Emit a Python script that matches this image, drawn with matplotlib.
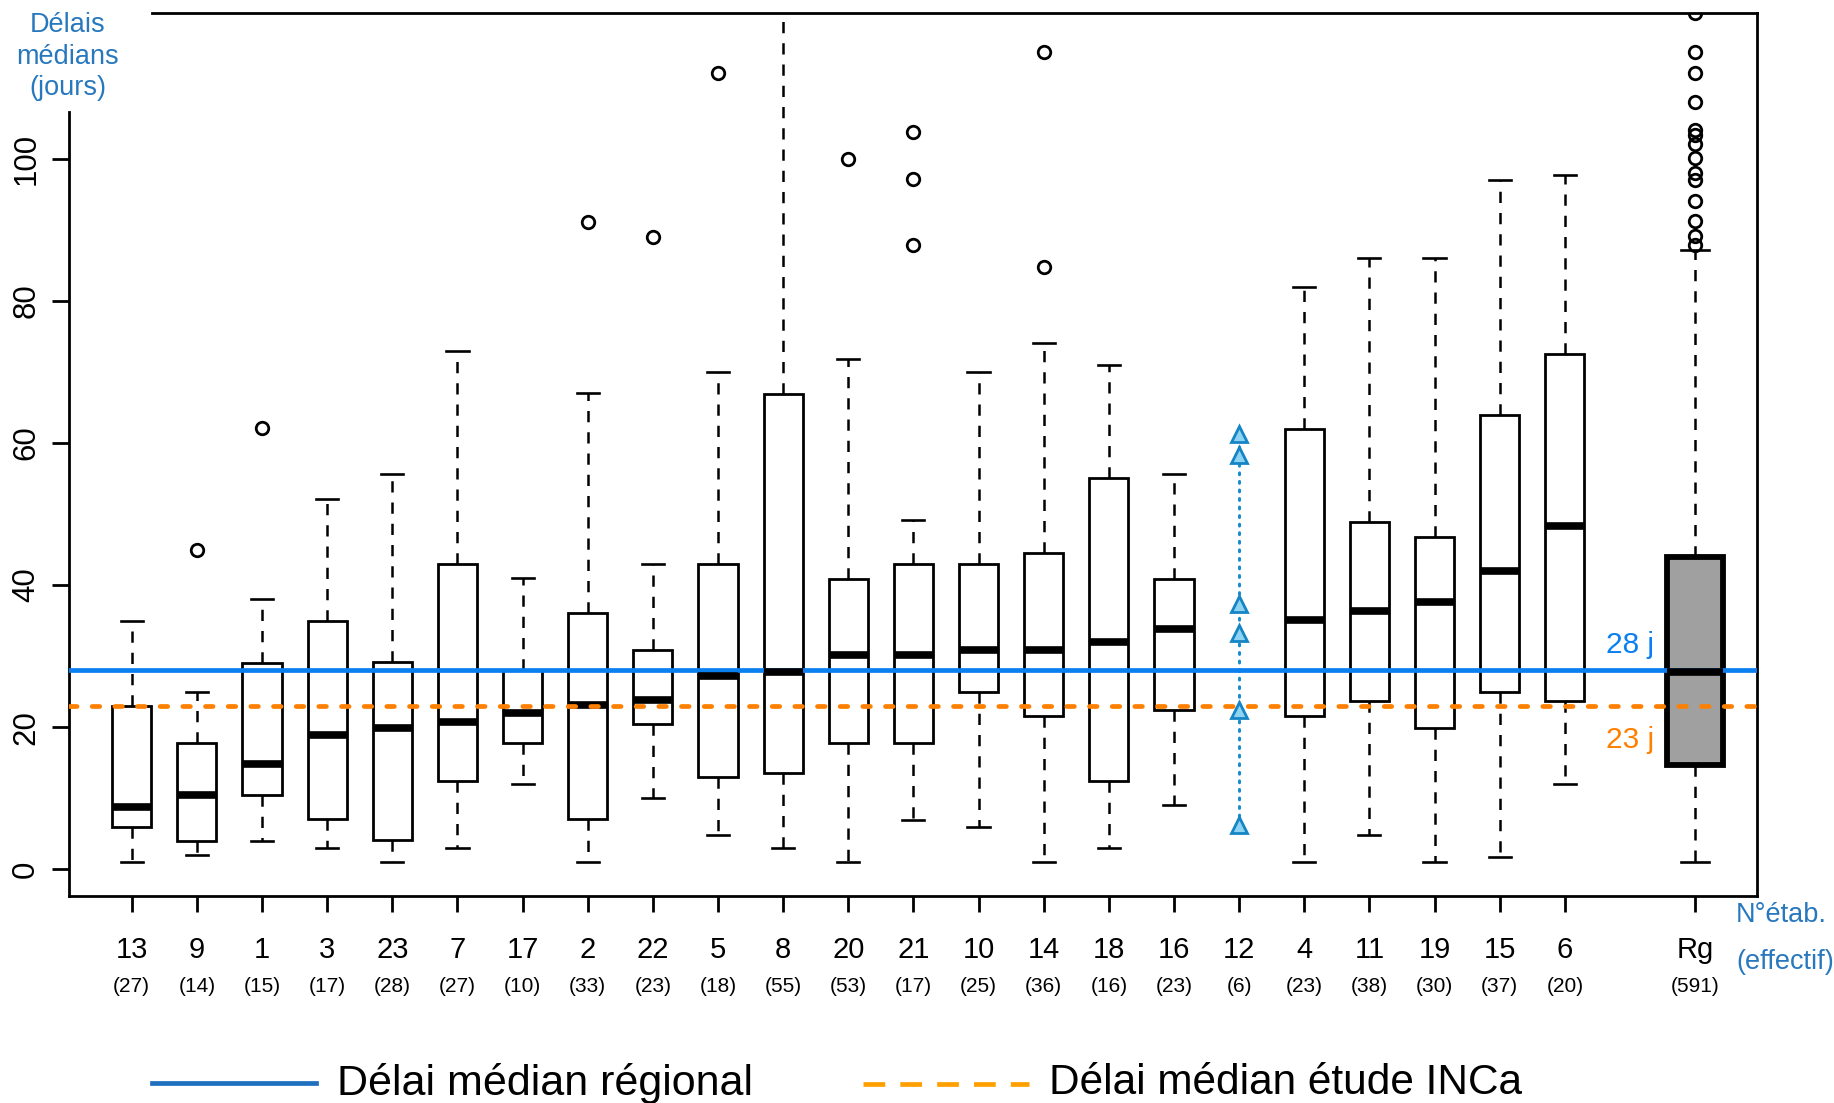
import matplotlib
matplotlib.use('Agg')
import matplotlib.pyplot as plt
from matplotlib.lines import Line2D
from matplotlib.transforms import blended_transform_factory

plt.rcParams['font.family'] = ['Liberation Sans', 'DejaVu Sans']

# numero d'etablissement et effectif
etab = ['13', '9', '1', '3', '23', '7', '17', '2', '22', '5', '8', '20',
        '21', '10', '14', '18', '16', '12', '4', '11', '19', '15', '6']
effectif = [27, 14, 15, 17, 28, 27, 10, 33, 23, 18, 55, 53,
            17, 25, 36, 16, 23, 6, 23, 38, 30, 37, 20]

# statistiques des boites (None pour l'etab 12 : points seuls)
whis_lo = [1, 2, 4, 3, 1, 3, 12, 1, 10, 4.8, 3, 1,
           7, 6, 1, 3, 9, None, 1, 4.8, 1, 1.8, 12]
q1 = [5.9, 4.0, 10.4, 7.1, 4.1, 12.5, 17.8, 7.1, 20.4, 13, 13.5, 17.8,
      17.8, 24.9, 21.6, 12.5, 22.4, None, 21.6, 23.7, 19.9, 24.9, 23.7]
med = [8.8, 10.4, 14.8, 18.9, 19.9, 20.8, 22, 23.1, 23.9, 27.2, 27.8, 30.1,
       30.1, 30.8, 30.8, 32, 33.8, None, 35.1, 36.4, 37.6, 42, 48.3]
q3 = [23.0, 17.8, 29, 34.9, 29.2, 43, 28, 36.1, 30.8, 43, 66.9, 40.9,
      43, 43, 44.5, 55, 40.9, None, 61.9, 48.9, 46.8, 63.9, 72.5]
whis_hi = [35, 24.9, 38, 52.1, 55.7, 73, 41, 67, 43, 70, 125, 71.8,
           49.1, 70, 74, 71, 55.7, None, 82, 86, 86, 97, 97.7]
outliers = {'9': [45], '1': [62.1], '2': [91.1], '22': [89], '5': [112],
            '20': [100], '21': [103.8, 97.1, 87.8], '14': [115, 84.8]}
points_12 = [6.3, 22.4, 33.3, 37.4, 58.3, 61.3]

# region
rg_stats = dict(whislo=1.1, q1=14.7, med=27.8, q3=43.9, whishi=87.1)
rg_n = 591
rg_outliers = [120.5, 115, 112, 108, 104.1, 103.4, 102, 100.1, 98, 97,
               94.1, 91.2, 89.1, 87.9]

med_regional = 28
med_inca = 23

fig = plt.figure(figsize=(18.34, 11.03), dpi=100)
ax = fig.add_axes([69 / 1834, 207 / 1103, 1688 / 1834, 883 / 1103])

positions = list(range(1, len(etab) + 1))
rg_pos = len(etab) + 2

stats = []
pos_box = []
for i, e in enumerate(etab):
    if med[i] is None:
        continue
    stats.append(dict(whislo=whis_lo[i], q1=q1[i], med=med[i], q3=q3[i],
                      whishi=whis_hi[i], fliers=outliers.get(e, [])))
    pos_box.append(positions[i])

dash_w = (0, (4.5, 4))
flier = dict(marker='o', markersize=9, markerfacecolor='none',
             markeredgecolor='black', markeredgewidth=2)
ax.bxp(stats, positions=pos_box, widths=0.6, capwidths=0.34,
       patch_artist=True,
       boxprops=dict(facecolor='white', edgecolor='black', linewidth=2),
       medianprops=dict(color='black', linewidth=5.5, solid_capstyle='butt', zorder=3.5),
       whiskerprops=dict(color='black', linewidth=1.8, linestyle=dash_w),
       capprops=dict(color='black', linewidth=1.9),
       flierprops=flier)

rg = dict(rg_stats, fliers=rg_outliers)
ax.bxp([rg], positions=[rg_pos], widths=0.87, capwidths=0.43, patch_artist=True,
       boxprops=dict(facecolor='#a0a0a0', edgecolor='black', linewidth=4.2),
       medianprops=dict(color='black', linewidth=5.5, solid_capstyle='butt', zorder=3.5),
       whiskerprops=dict(color='black', linewidth=1.8, linestyle=dash_w),
       capprops=dict(color='black', linewidth=1.9),
       flierprops=flier)

# etablissement 12 : effectif trop faible, points individuels
p12 = positions[etab.index('12')]
ax.plot([p12, p12], [min(points_12), max(points_12)], color='#1a8ccc',
        linewidth=2.2, linestyle=(0, (0.6, 2.2)), dash_capstyle='round', zorder=2)
ax.plot([p12] * len(points_12), points_12, linestyle='none', marker='^',
        markersize=12, markerfacecolor='#8fd3f2', markeredgecolor='#1585c5',
        markeredgewidth=2, zorder=4.5)

# mediane regionale et etude INCa
ax.axhline(med_regional, color='#0a7ff0', linewidth=3.4, zorder=3)
ax.axhline(med_inca, color='#ff8000', linewidth=3.4, linestyle=(0, (1.6, 3.2)),
           dash_capstyle='round', zorder=4)
ax.text(24, med_regional + 2.5, '28 j', color='#0a7ff0', fontsize=21.5,
        ha='center', va='baseline')
ax.text(24, med_inca - 5.9, '23 j', color='#ff8000', fontsize=21.5,
        ha='center', va='baseline')

ax.set_xlim(0.037, 25.95)
ax.set_ylim(-3.75, 120.5)

ax.set_yticks([0, 20, 40, 60, 80, 100])
ax.set_yticklabels(['0', '20', '40', '60', '80', '100'], rotation=90,
                   va='center', fontsize=22.5)
ax.tick_params(axis='y', length=12, width=2, pad=8)
ax.set_xticks(positions + [rg_pos])
ax.set_xticklabels([''] * (len(positions) + 1))
ax.tick_params(axis='x', length=11.5, width=2)

for s in ax.spines.values():
    s.set_linewidth(2)
ax.spines['left'].set_bounds(-3.75, 106.5)
ax.spines['top'].set_bounds(1.31, 25.95)

trans = blended_transform_factory(ax.transData, fig.transFigure)
for p, e, n in zip(positions, etab, effectif):
    ax.text(p, 1 - 950 / 1103, e, transform=trans, ha='center', va='center',
            fontsize=21)
    ax.text(p, 1 - 987 / 1103, '(%d)' % n, transform=trans, ha='center',
            va='center', fontsize=15)
ax.text(rg_pos, 1 - 950 / 1103, 'Rg', transform=trans, ha='center',
        va='center', fontsize=21)
ax.text(rg_pos, 1 - 987 / 1103, '(%d)' % rg_n, transform=trans, ha='center',
        va='center', fontsize=15)

lab_col = '#2878be'
for txt, yy in [('Délais', 25), ('médians', 57), ('(jours)', 88)]:
    fig.text(68 / 1834, 1 - yy / 1103, txt, color=lab_col, fontsize=19.5,
             ha='center', va='center')
fig.text(1736 / 1834, 1 - 915 / 1103, 'N°étab.', color=lab_col, fontsize=19.5,
         ha='left', va='center')
fig.text(1736 / 1834, 1 - 962 / 1103, '(effectif)', color=lab_col, fontsize=19.5,
         ha='left', va='center')

# legende en bas
fig.add_artist(Line2D([152 / 1834, 316 / 1834], [1 - 1083 / 1103] * 2,
                      color='#1f6fbf', linewidth=3.4))
fig.text(337 / 1834, 1 - 1083 / 1103, 'Délai médian régional', fontsize=31,
         ha='left', va='center')
fig.add_artist(Line2D([863 / 1834, 1029 / 1834], [1 - 1084 / 1103] * 2,
                      color='#ffa000', linewidth=3.4, linestyle=(0, (4.6, 3.2))))
fig.text(1049 / 1834, 1 - 1083 / 1103, 'Délai médian étude INCa', fontsize=30.5,
         ha='left', va='center')

fig.savefig('out.png', dpi=100)
